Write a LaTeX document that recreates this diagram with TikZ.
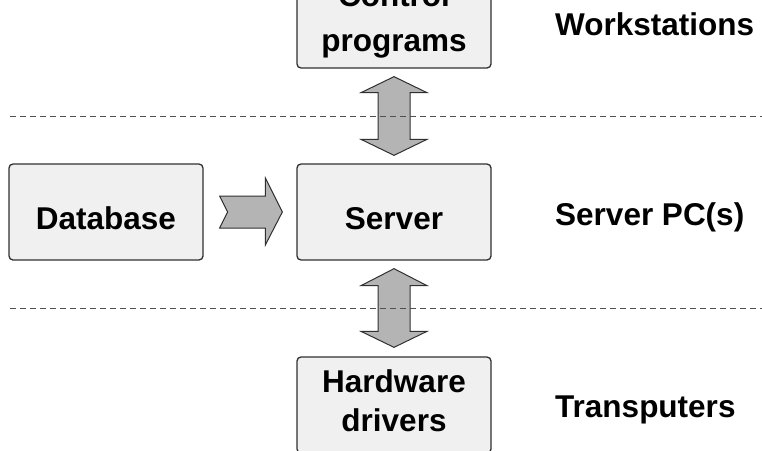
\documentclass[tikz,border=0pt]{standalone}
\usepackage{fontspec}
\setmainfont{Liberation Sans}
\usetikzlibrary{calc}
\definecolor{boxfill}{HTML}{F0F0F0}
\definecolor{boxline}{HTML}{303030}
\definecolor{arrfill}{HTML}{B4B4B4}
\definecolor{dashcol}{HTML}{505050}
\tikzset{
  box/.style={draw=boxline, fill=boxfill, line width=1.3pt, rounded corners=4pt,
    minimum width=194pt, minimum height=96pt, inner sep=0pt, rectangle},
  lbl/.style={font=\fontsize{31.5}{38}\selectfont\bfseries, inner sep=0pt, anchor=base},
  side/.style={lbl, anchor=base west},
  fatarrow/.style={draw=boxline, fill=arrfill, line width=1pt, line join=miter},
  sep/.style={draw=dashcol, line width=1pt, dash pattern=on 6pt off 4pt}
}
\begin{document}
\begin{tikzpicture}[x=1pt,y=-1pt]
\useasboundingbox (0,0) rectangle (762,450);
\clip (0,0) rectangle (762,450);
% boxes
\node[box] (top) at (394,20) {};
\node[box] (server) at (394,212) {};
\node[box] (db) at (106,212) {};
\node[box] (hw) at (394,405) {};
% box texts
\node[lbl] (t1) at (394,6) {Control};
\node[lbl] (t2) at (394,51) {programs};
\node[lbl] (t3) at (394,229) {Server};
\node[lbl] (t4) at (106,229) {Database};
\node[lbl] (t5) at (394,392) {Hardware};
\node[lbl] (t6) at (394,431) {drivers};
% side labels
\node[side] (s1) at (555,35) {Workstations};
\node[side] (s2) at (555,225) {Server PC(s)};
\node[side] (s3) at (555,417) {Transputers};
% arrow tips
\coordinate (uT) at ($(top.south)+(0,8)$);
\coordinate (uB) at ($(server.north)+(0,-8)$);
\coordinate (lT) at ($(server.south)+(0,8)$);
\coordinate (lB) at ($(hw.north)+(0,-9)$);
\coordinate (rL) at ($(db.east)+(16,0)$);
\coordinate (rR) at ($(server.west)+(-14,0)$);
% vertical double arrows
\draw[fatarrow] (uT) -- ++(33,16) -- ++(-17,0) -- ($(uB)+(16,-16)$) -- ++(17,0) -- (uB)
  -- ++(-33,-16) -- ++(17,0) -- ($(uT)+(-16,16)$) -- ++(-17,0) -- cycle;
\draw[fatarrow] (lT) -- ++(33,17) -- ++(-17,0) -- ($(lB)+(16,-16)$) -- ++(17,0) -- (lB)
  -- ++(-33,-16) -- ++(17,0) -- ($(lT)+(-16,17)$) -- ++(-17,0) -- cycle;
% right arrow
\draw[fatarrow] ($(rL)+(0,-16)$) -- ($(rR)+(-17,-16)$) -- ($(rR)+(-17,-34)$) -- (rR)
  -- ($(rR)+(-17,33)$) -- ($(rR)+(-17,16)$) -- ($(rL)+(0,16)$) -- ($(rL)+(8,0)$) -- cycle;
% dashed separators
\coordinate (d1a) at (10,116);
\coordinate (d1b) at (762,116);
\coordinate (d2a) at (10,308);
\coordinate (d2b) at (762,308);
\draw[sep] (d1a) -- (d1b);
\draw[sep] (d2a) -- (d2b);
\end{tikzpicture}
\end{document}
